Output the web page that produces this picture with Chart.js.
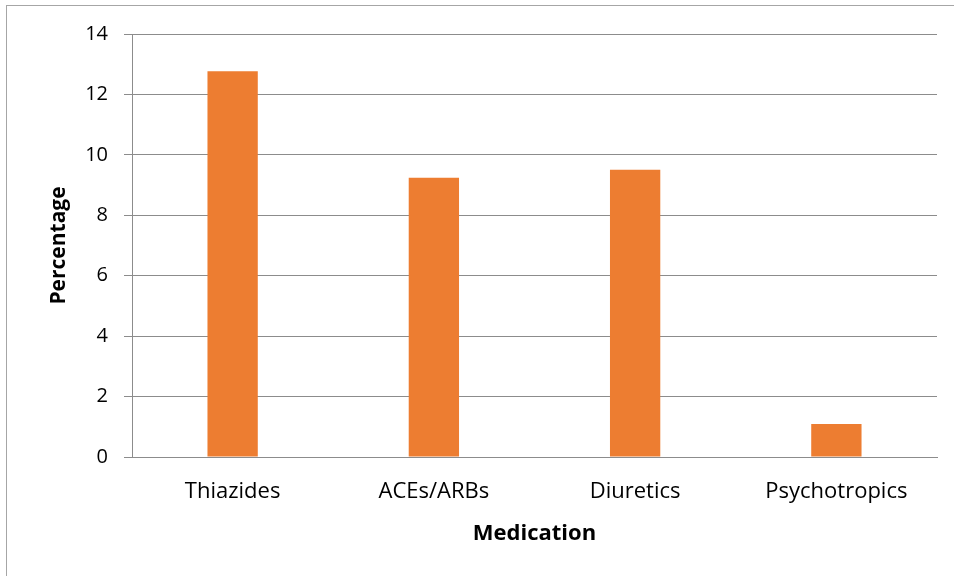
<!DOCTYPE html>
<html>
<head>
<meta charset="utf-8">
<script src="https://cdn.jsdelivr.net/npm/chart.js@4.4.1/dist/chart.umd.min.js"></script>
<style>
  html, body { margin: 0; padding: 0; background: #fff; }
  #wrap { position: relative; width: 954px; height: 576px; overflow: hidden; }
  #frame { position: absolute; left: 6px; top: 5px; width: 1000px; height: 1000px;
           border-left: 1px solid #a6a6a6; border-top: 1px solid #a6a6a6; box-sizing: border-box; }
  canvas { position: absolute; left: 0; top: 0; }
</style>
</head>
<body>
<div id="wrap">
  <div id="frame"></div>
  <canvas id="c" width="954" height="576"></canvas>
</div>
<script>
const categories = ["Thiazides", "ACEs/ARBs", "Diuretics", "Psychotropics"];
const percentages = [12.77, 9.24, 9.51, 1.09];
const yTicks = [0, 2, 4, 6, 8, 10, 12, 14];

const FONT = "'Open Sans', 'Noto Sans', sans-serif";

new Chart(document.getElementById('c'), {
  type: 'bar',
  data: {
    labels: categories,
    datasets: [{
      label: 'Percentage',
      data: percentages,
      backgroundColor: '#ED7D31',
      borderWidth: 0,
      barPercentage: 0.5,
      categoryPercentage: 0.5
    }]
  },
  options: {
    responsive: false,
    animation: false,
    devicePixelRatio: 1,
    layout: { padding: { left: 40, right: 17, top: 34, bottom: 29 } },
    plugins: { legend: { display: false }, tooltip: { enabled: false } },
    scales: {
      x: {
        grid: { display: false, drawTicks: false },
        border: { display: true, color: '#8c8c8c', width: 1 },
        ticks: { color: '#000', font: { family: FONT, size: 22 }, padding: 22 },
        title: { display: true, text: 'Medication', color: '#000',
                 font: { family: FONT, size: 22, weight: 'bold' }, padding: { top: 0, bottom: 0 } },
        afterFit: s => { s.height = 90; }
      },
      y: {
        min: 0, max: 14,
        afterBuildTicks: s => { s.ticks = yTicks.map(v => ({ value: v })); },
        grid: { color: '#8c8c8c', lineWidth: 1, drawTicks: true, tickLength: 8, tickColor: '#8c8c8c' },
        border: { display: true, color: '#8c8c8c', width: 1 },
        ticks: { color: '#000', font: { family: FONT, size: 20 }, padding: 16 },
        title: { display: true, text: 'Percentage', color: '#000',
                 font: { family: FONT, size: 21, weight: 'bold' }, padding: { top: 6, bottom: 0 } },
        afterFit: s => { s.width = 92; }
      }
    }
  }
});
</script>
</body>
</html>
